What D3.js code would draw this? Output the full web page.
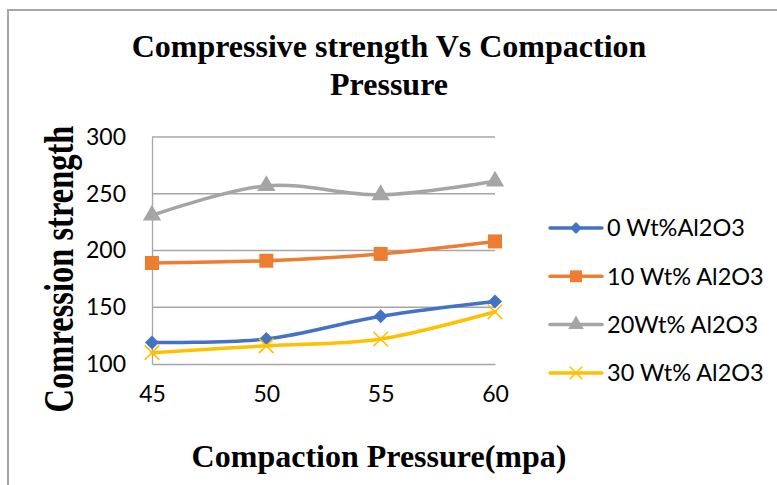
<!DOCTYPE html>
<html>
<head>
<meta charset="utf-8">
<script src="https://cdn.jsdelivr.net/npm/d3@7"></script>
<style>
  html, body { margin: 0; padding: 0; background: #fff; }
  svg { display: block; }
</style>
</head>
<body>
<svg id="chart" width="777" height="485"></svg>
<script>
// Compaction pressure (MPa) on the x axis
const pressures = [45, 50, 55, 60];
const yTicks = [100, 150, 200, 250, 300];

// Compressive strength for each Al2O3 content
const seriesNames = ["0 Wt%Al2O3", "10 Wt% Al2O3", "20Wt% Al2O3", "30 Wt% Al2O3"];
const al0  = [119, 122, 142, 155];
const al10 = [189, 191, 197, 208];
const al20 = [231, 257, 249, 261];
const al30 = [110, 116, 122, 146];
const seriesColors = ["#4472C4", "#ED7D31", "#A5A5A5", "#FFC000"];
const seriesMarkers = ["diamond", "square", "triangle", "cross"];

const seriesValues = [al0, al10, al20, al30];
const series = seriesNames.map((name, i) => ({
  name, color: seriesColors[i], marker: seriesMarkers[i],
  points: pressures.map((p, j) => ({ x: p, y: seriesValues[i][j] }))
}));

const svg = d3.select("#chart");
const W = 777, H = 485;

// outer frame
svg.append("rect").attr("x", 0).attr("y", 0).attr("width", W).attr("height", H).attr("fill", "#fff");
svg.append("path")
  .attr("d", "M8,485 L8,10 L777,10")
  .attr("fill", "none").attr("stroke", "#a6a6a6").attr("stroke-width", 2);

const plot = { left: 152, right: 495, top: 137, bottom: 364 };

const x = d3.scaleLinear().domain([45, 60]).range([plot.left, plot.right]);
const y = d3.scaleLinear().domain([100, 300]).range([plot.bottom, plot.top]);

const tickFont = "Lato, 'Open Sans', sans-serif";

// gridlines
svg.append("g").selectAll("line").data(yTicks.slice(1)).join("line")
  .attr("x1", plot.left).attr("x2", plot.right)
  .attr("y1", d => y(d)).attr("y2", d => y(d))
  .attr("stroke", "#a6a6a6").attr("stroke-width", 1.3);

// y axis
const yAxis = svg.append("g").attr("transform", `translate(${plot.left},0)`)
  .call(d3.axisLeft(y).tickValues(yTicks).tickSize(0).tickPadding(26));
yAxis.select(".domain").attr("stroke", "#a6a6a6").attr("stroke-width", 1.3);
yAxis.selectAll("text")
  .attr("font-family", tickFont)
  .attr("font-size", 23).attr("fill", "#000");

// x axis
const xAxis = svg.append("g").attr("transform", `translate(0,${plot.bottom})`)
  .call(d3.axisBottom(x).tickValues(pressures).tickSize(0).tickPadding(22));
xAxis.select(".domain").attr("stroke", "#a6a6a6").attr("stroke-width", 1.3);
xAxis.selectAll("text")
  .attr("font-family", tickFont)
  .attr("font-size", 23).attr("fill", "#000");

// marker symbols
function markerPath(kind) {
  switch (kind) {
    case "diamond":  return d3.symbol().type(d3.symbolDiamond2).size(125)();
    case "square":   return d3.symbol().type(d3.symbolSquare).size(196)();
    case "triangle": return d3.symbol().type(d3.symbolTriangle).size(145)();
    case "cross":    return d3.symbol().type(d3.symbolX).size(140)();
  }
}

const line = d3.line()
  .x(d => x(d.x)).y(d => y(d.y))
  .curve(d3.curveCardinal.tension(0));

const sg = svg.append("g").selectAll("g").data(series).join("g");
sg.append("path")
  .attr("d", d => line(d.points))
  .attr("fill", "none")
  .attr("stroke", d => d.color)
  .attr("stroke-width", 3.5)
  .attr("stroke-linecap", "round");

sg.each(function(s) {
  d3.select(this).selectAll("path.m").data(s.points).join("path")
    .attr("class", "m")
    .attr("transform", d => `translate(${x(d.x)},${y(d.y)})`)
    .attr("d", markerPath(s.marker))
    .attr("fill", s.marker === "cross" ? "none" : s.color)
    .attr("stroke", s.color)
    .attr("stroke-width", s.marker === "cross" ? 1.6 : 0);
});

// legend
const legend = svg.append("g").selectAll("g").data(series).join("g")
  .attr("transform", (d, i) => `translate(550,${228 + i * 48.3})`);
legend.append("line")
  .attr("x1", 0).attr("x2", 52).attr("y1", 0).attr("y2", 0)
  .attr("stroke", d => d.color).attr("stroke-width", 3.5).attr("stroke-linecap", "round");
legend.append("path")
  .attr("transform", "translate(26,0) scale(0.85)")
  .attr("d", d => markerPath(d.marker))
  .attr("fill", d => d.marker === "cross" ? "none" : d.color)
  .attr("stroke", d => d.color)
  .attr("stroke-width", d => d.marker === "cross" ? 1.8 : 0);
legend.append("text")
  .attr("x", 57).attr("y", 0).attr("dy", "0.35em")
  .attr("font-family", tickFont)
  .attr("font-size", 23.5).attr("fill", "#000")
  .text(d => d.name);

// titles
const serif = "'Liberation Serif', 'DejaVu Serif', serif";
const title = svg.append("text")
  .attr("text-anchor", "middle")
  .attr("font-family", serif).attr("font-weight", "bold")
  .attr("font-size", 32).attr("fill", "#000");
title.append("tspan").attr("x", 389).attr("y", 57).text("Compressive strength Vs Compaction");
title.append("tspan").attr("x", 389).attr("y", 95).text("Pressure");

svg.append("text")
  .attr("transform", "translate(73,269) rotate(-90) scale(1,1.3)")
  .attr("text-anchor", "middle")
  .attr("font-family", serif).attr("font-weight", "bold")
  .attr("font-size", 32.5).attr("fill", "#000")
  .text("Comression strength");

svg.append("text")
  .attr("x", 379).attr("y", 467)
  .attr("text-anchor", "middle")
  .attr("font-family", serif).attr("font-weight", "bold")
  .attr("font-size", 32).attr("fill", "#000")
  .text("Compaction Pressure(mpa)");
</script>
</body>
</html>
